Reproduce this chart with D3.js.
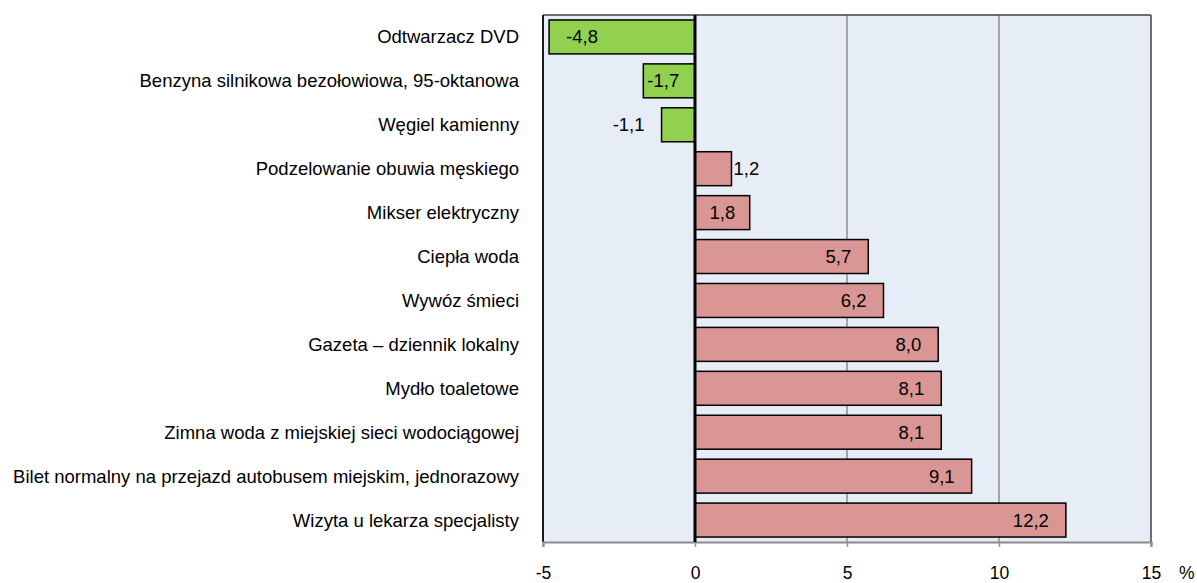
<!DOCTYPE html>
<html><head><meta charset="utf-8">
<script src="https://cdn.jsdelivr.net/npm/d3@7"></script>
<style>body{margin:0;background:#fff;}svg{display:block;font-family:"Liberation Sans",Arial,sans-serif;}</style>
</head><body><svg id="c" width="1197" height="583"></svg>
<script>
const categories = ["Odtwarzacz DVD","Benzyna silnikowa bezołowiowa, 95-oktanowa","Węgiel kamienny","Podzelowanie obuwia męskiego","Mikser elektryczny","Ciepła woda","Wywóz śmieci","Gazeta – dziennik lokalny","Mydło toaletowe","Zimna woda z miejskiej sieci wodociągowej","Bilet normalny na przejazd autobusem miejskim, jednorazowy","Wizyta u lekarza specjalisty"];
const values = [-4.8,-1.7,-1.1,1.2,1.8,5.7,6.2,8.0,8.1,8.1,9.1,12.2];
const tickValues = [-5,0,5,10,15];
const unitLabel = "%";

const FS = 18.5, TFS = 17.5;
const svg = d3.select("#c");
const L = 543, R = 1151, T = 15, B = 542;
const x = d3.scaleLinear().domain([-5,15]).range([L,R]);
const y = d3.scaleBand().domain(categories).range([T,B]).paddingInner(0.227).paddingOuter(0.113);
const fmt = v => d3.format(".1f")(v).replace(".",",").replace("\u2212","-");

svg.append("rect").attr("x",L).attr("y",T).attr("width",R-L).attr("height",B-T).attr("fill","#E7EDF6");
svg.append("g").selectAll("line").data(tickValues.filter(t=>t>0 && t<15)).join("line")
  .attr("x1",d=>x(d)).attr("x2",d=>x(d)).attr("y1",T).attr("y2",B)
  .attr("stroke","#8c8c8c").attr("stroke-width",1.5);
svg.append("line").attr("x1",L).attr("x2",R).attr("y1",T).attr("y2",T).attr("stroke","#404040").attr("stroke-width",1.5);
svg.append("line").attr("x1",R).attr("x2",R).attr("y1",T).attr("y2",B).attr("stroke","#404040").attr("stroke-width",1.5);
svg.append("line").attr("x1",L).attr("x2",L).attr("y1",T).attr("y2",B).attr("stroke","#000").attr("stroke-width",1.8);

svg.append("g").selectAll("rect").data(values).join("rect")
  .attr("x",d=>Math.min(x(0),x(d))).attr("width",d=>Math.abs(x(d)-x(0)))
  .attr("y",(d,i)=>y(categories[i])).attr("height",y.bandwidth())
  .attr("fill",d=>d<0?"#92D050":"#D99694").attr("stroke","#000").attr("stroke-width",1.5);

const ax = svg.append("g").attr("transform",`translate(0,${B})`)
  .call(d3.axisBottom(x).tickValues(tickValues).tickSize(5).tickFormat(d=>String(d)));
ax.select(".domain").attr("stroke","#8c8c8c").attr("stroke-width",2.2);
ax.selectAll(".tick line").attr("stroke","#8c8c8c").attr("stroke-width",1.5);
ax.selectAll(".tick text").attr("font-size",TFS).attr("fill","#000").attr("y",0).attr("dy",null)
  .attr("transform","translate(0,37)").attr("font-family","Liberation Sans, Arial, sans-serif");
svg.append("text").attr("x",1179).attr("y",B+37).attr("font-size",TFS).text(unitLabel);

svg.append("line").attr("x1",x(0)).attr("x2",x(0)).attr("y1",T).attr("y2",B).attr("stroke","#000").attr("stroke-width",3);

svg.append("g").selectAll("text").data(categories).join("text")
  .attr("x",519).attr("y",d=>y(d)+y.bandwidth()/2).attr("dy","0.35em")
  .attr("text-anchor","end").attr("font-size",FS).attr("fill","#000").text(d=>d);

const lab = svg.append("g").selectAll("text").data(values).join("text")
  .attr("font-size",FS).attr("fill","#000").attr("dy","0.35em")
  .attr("y",(d,i)=>y(categories[i])+y.bandwidth()/2).text(fmt);
lab.each(function(d){
  const t = d3.select(this);
  const tw = this.getComputedTextLength();
  const w = Math.abs(x(d)-x(0));
  if (w - tw >= 12) {
    const gap = Math.min(17, (w-tw)/2);
    if (d>=0) t.attr("x", x(d)-gap).attr("text-anchor","end");
    else t.attr("x", x(d)+(w-tw>=30?gap:4)).attr("text-anchor","start");
  } else {
    if (d>=0) t.attr("x", x(d)+2).attr("text-anchor","start");
    else t.attr("x", x(d)-17).attr("text-anchor","end");
  }
});
</script></body></html>
